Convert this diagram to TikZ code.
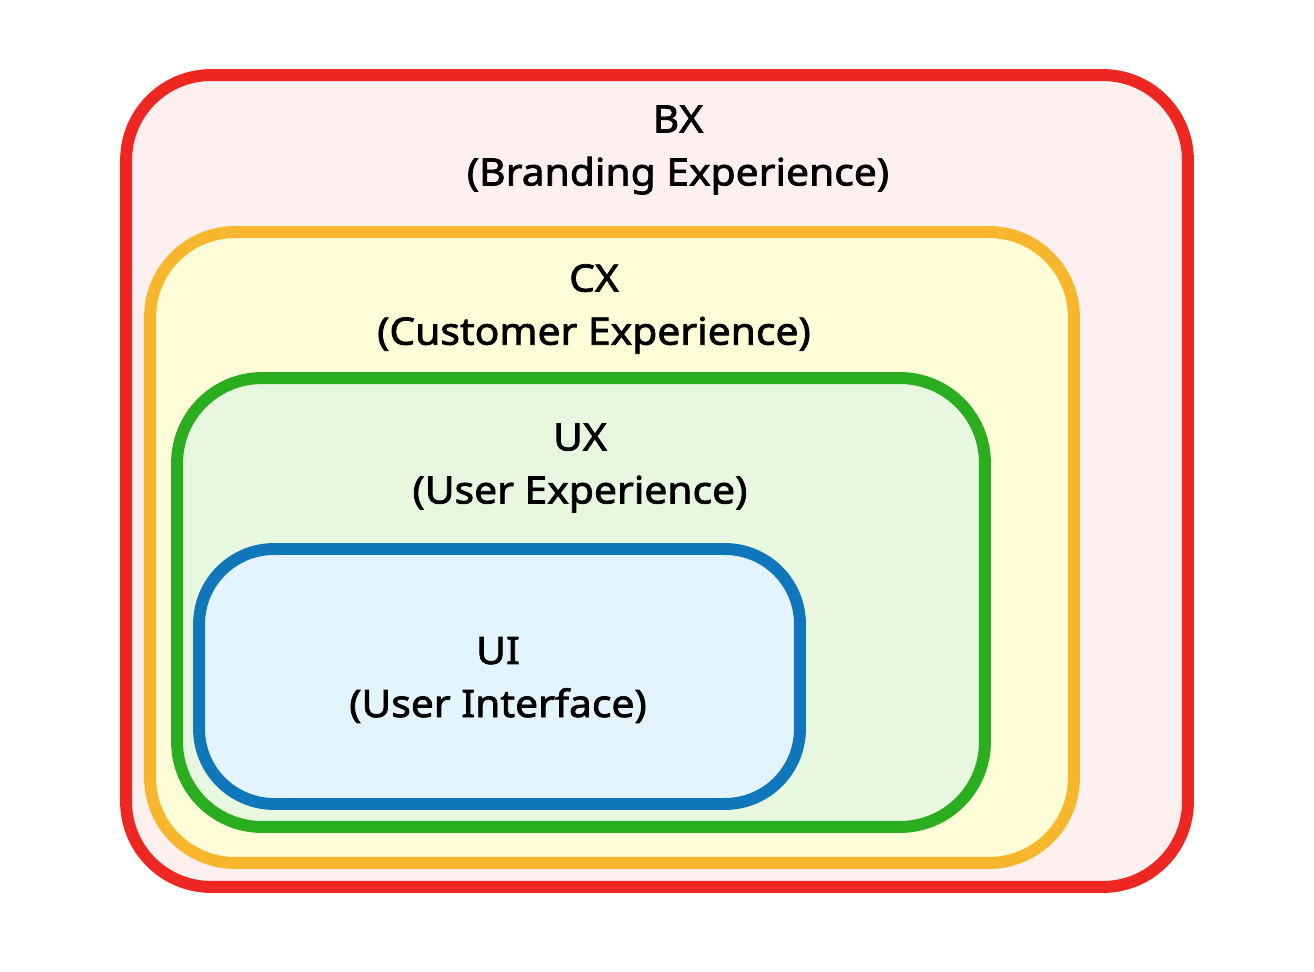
\documentclass[tikz,border=0pt]{standalone}
\usepackage{fontspec}
\setmainfont[FakeBold=2, FakeStretch=1.08]{Noto Sans}
\usetikzlibrary{positioning}

\definecolor{bxline}{HTML}{EE2722}
\definecolor{bxfill}{HTML}{FFF0F0}
\definecolor{cxline}{HTML}{F8B62D}
\definecolor{cxfill}{HTML}{FFFCD8}
\definecolor{uxline}{HTML}{2AAD1F}
\definecolor{uxfill}{HTML}{E8F8E0}
\definecolor{uiline}{HTML}{1177BB}
\definecolor{uifill}{HTML}{E4F4FD}

\tikzset{
  layer/.style={draw, line width=6.8pt, rounded corners=1.7cm, inner sep=0pt},
  layertext/.style={align=center, font=\fontsize{21.5}{30.2}\selectfont}
}

\begin{document}
\begin{tikzpicture}[x=0.02cm, y=-0.02cm]
  \useasboundingbox (0,0) rectangle (1314,972);

  % boxes, outside to inside
  \node[layer, draw=bxline, fill=bxfill, minimum width=21.24cm, minimum height=16.24cm] (bx) at (657,481) {};
  \node[layer, draw=cxline, fill=cxfill, minimum width=18.48cm, minimum height=12.62cm] (cx) at (612,547.5) {};
  \node[layer, draw=uxline, fill=uxfill, minimum width=16.16cm, minimum height=8.98cm] (ux) at (581,602.5) {};
  \node[layer, draw=uiline, fill=uifill, minimum width=12.02cm, minimum height=5.10cm, rounded corners=1.5cm] (ui) at (499.5,676.5) {};

  % labels
  \node[layertext] (bxlabel) at (678,150) {BX\\(Branding Experience)};
  \node[layertext] (cxlabel) at (594,309) {CX\\(Customer Experience)};
  \node[layertext] (uxlabel) at (580,468) {UX\\(User Experience)};
  \node[layertext] (uilabel) at (498,680) {UI\\(User Interface)};
\end{tikzpicture}
\end{document}
